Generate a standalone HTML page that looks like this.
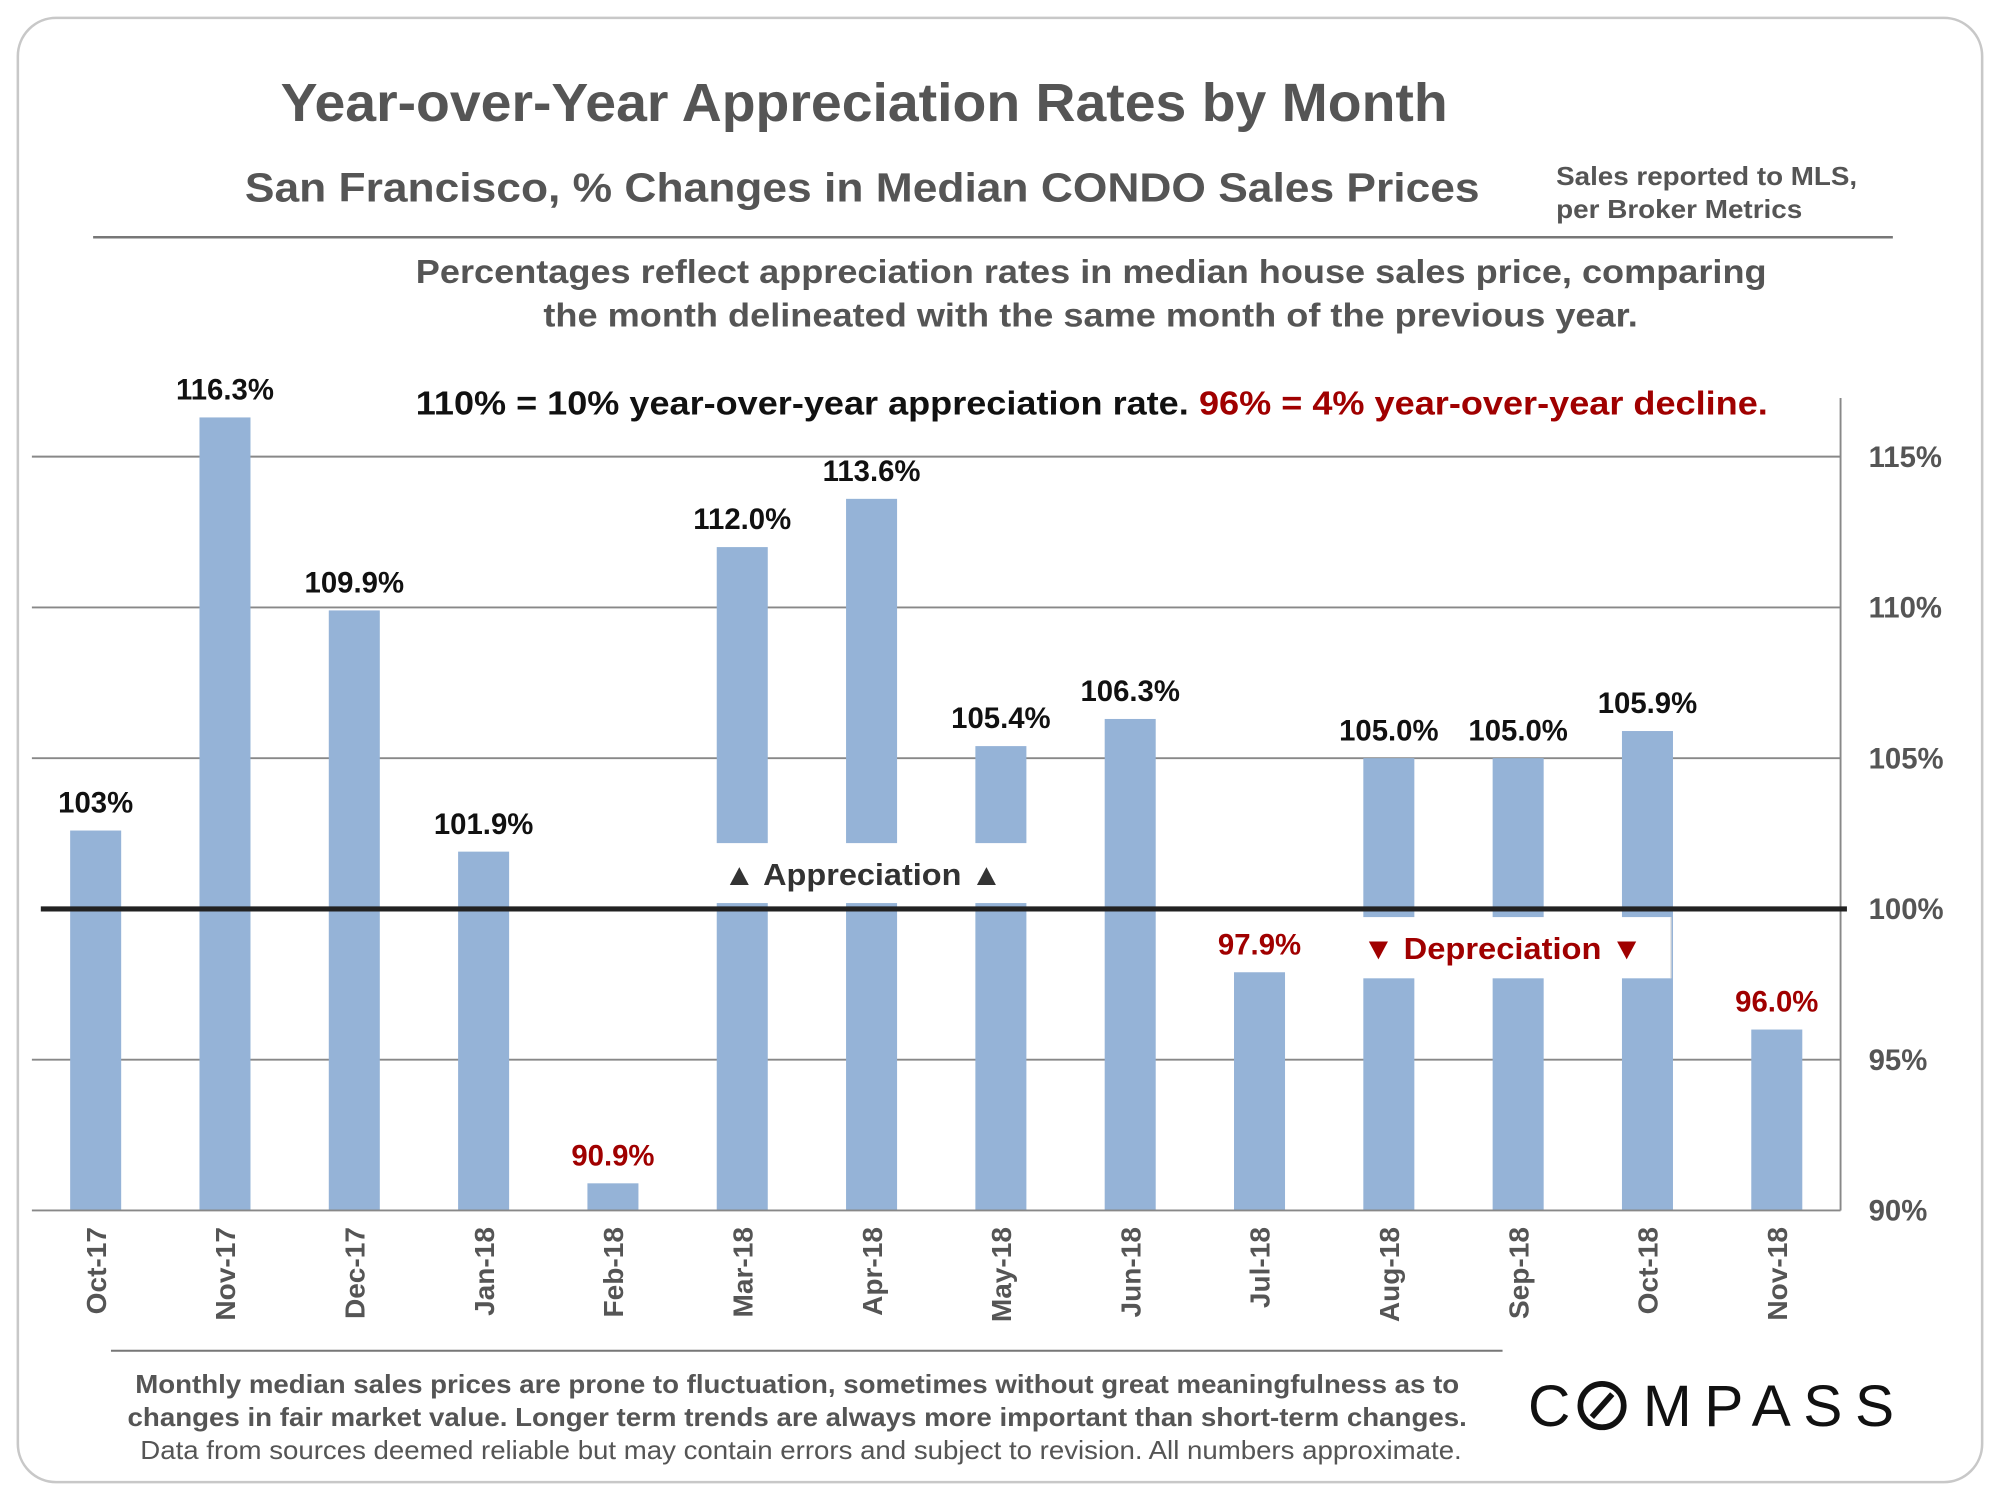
<!DOCTYPE html>
<html><head><meta charset="utf-8"><style>
html,body{margin:0;padding:0;background:#fff}
svg{display:block}
text{font-family:"Liberation Sans",sans-serif}
</style></head><body>
<svg id="chart" width="2000" height="1500" viewBox="0 0 1568 1176" xmlns="http://www.w3.org/2000/svg">
<rect x="14" y="14" width="1540" height="1148" rx="30" fill="#fff" stroke="#c8c8c8" stroke-width="2"/>
<text x="220" y="95" textLength="915" lengthAdjust="spacingAndGlyphs" font-size="42" font-weight="bold" fill="#555">Year-over-Year Appreciation Rates by Month</text>
<text x="192" y="158" textLength="968" lengthAdjust="spacingAndGlyphs" font-size="32" font-weight="bold" fill="#555">San Francisco, % Changes in Median CONDO Sales Prices</text>
<text font-size="20" font-weight="bold" fill="#555"><tspan x="1220" y="145" textLength="236" lengthAdjust="spacingAndGlyphs">Sales reported to MLS,</tspan><tspan x="1220" y="171" textLength="193" lengthAdjust="spacingAndGlyphs">per Broker Metrics</tspan></text>
<line x1="73" y1="186" x2="1484" y2="186" stroke="#777" stroke-width="2"/>
<text font-size="26" font-weight="bold" fill="#555"><tspan x="326" y="222" textLength="1059" lengthAdjust="spacingAndGlyphs">Percentages reflect appreciation rates in median house sales price, comparing</tspan><tspan x="426" y="256" textLength="858" lengthAdjust="spacingAndGlyphs">the month delineated with the same month of the previous year.</tspan></text>
<text font-size="26" font-weight="bold" fill="#111"><tspan x="326" y="325" textLength="606" lengthAdjust="spacingAndGlyphs">110% = 10% year-over-year appreciation rate.</tspan><tspan x="940" y="325" fill="#a00000" textLength="446" lengthAdjust="spacingAndGlyphs">96% = 4% year-over-year decline.</tspan></text>
<g id="grid"></g>
<g id="bars"></g>
<g id="labels"></g>
<line x1="1443" y1="312" x2="1443" y2="949" stroke="#888" stroke-width="1.5"/>
<line x1="25" y1="949" x2="1443" y2="949" stroke="#888" stroke-width="1.5"/>
<rect x="555" y="661" width="250" height="47" fill="#fff"/>
<text x="567" y="694" textLength="219" lengthAdjust="spacingAndGlyphs" font-size="24" font-weight="bold" fill="#333">▲ Appreciation ▲</text>
<line id="baseline" x1="32" x2="1448" stroke="#222" stroke-width="4"/>
<rect x="1060" y="719" width="250" height="48" fill="#fff"/>
<line x1="1310" y1="719" x2="1310" y2="767" stroke="#ddd" stroke-width="1"/>
<text x="1068" y="752" textLength="220" lengthAdjust="spacingAndGlyphs" font-size="24" font-weight="bold" fill="#a00000">▼ Depreciation ▼</text>
<line x1="87" y1="1059" x2="1178" y2="1059" stroke="#777" stroke-width="1.5"/>
<text font-size="20" fill="#555"><tspan x="106" y="1092" font-weight="bold" textLength="1038" lengthAdjust="spacingAndGlyphs">Monthly median sales prices are prone to fluctuation, sometimes without great meaningfulness as to</tspan><tspan x="100" y="1118" font-weight="bold" textLength="1050" lengthAdjust="spacingAndGlyphs">changes in fair market value. Longer term trends are always more important than short-term changes.</tspan><tspan x="110" y="1144" textLength="1036" lengthAdjust="spacingAndGlyphs">Data from sources deemed reliable but may contain errors and subject to revision. All numbers approximate.</tspan></text>
<g>
<text x="1198" y="1118" font-size="46" fill="#111">C</text>
<circle cx="1256" cy="1102" r="17" fill="none" stroke="#111" stroke-width="4.5"/>
<line x1="1248" y1="1111" x2="1264" y2="1093" stroke="#111" stroke-width="4.5"/>
<text x="1288" y="1118" font-size="46" fill="#111" textLength="197" lengthAdjust="spacing">MPASS</text>
</g>
</svg>
<script>
const categories=["Oct-17","Nov-17","Dec-17","Jan-18","Feb-18","Mar-18","Apr-18","May-18","Jun-18","Jul-18","Aug-18","Sep-18","Oct-18","Nov-18"];
const values=[102.6,116.3,109.9,101.9,90.9,112.0,113.6,105.4,106.3,97.9,105.0,105.0,105.9,96.0];
const valueLabels=["103%","116.3%","109.9%","101.9%","90.9%","112.0%","113.6%","105.4%","106.3%","97.9%","105.0%","105.0%","105.9%","96.0%"];
const yTicks=[90,95,100,105,110,115];
const yTickLabels=["90%","95%","100%","105%","110%","115%"];
const NS="http://www.w3.org/2000/svg";
const y=v=>949-(v-90)*(949-358)/25;
const x=i=>75+i*(1393-75)/(categories.length-1);
function mk(t,a,p){const e=document.createElementNS(NS,t);for(const k in a)e.setAttribute(k,a[k]);p.appendChild(e);return e;}
const grid=document.getElementById('grid'),bars=document.getElementById('bars'),labels=document.getElementById('labels');
yTicks.forEach((t,i)=>{
 if(t!==90&&t!==100){const l=mk('line',{x1:25,x2:1443,y1:y(t),y2:y(t),stroke:'#888','stroke-width':1.5},grid);
 
 }
 const tx=mk('text',{x:1465,y:y(t)+8,'font-size':23,'font-weight':'bold',fill:'#555'},grid);
 tx.textContent=yTickLabels[i];
 
 
});
document.getElementById('baseline').setAttribute('y1',y(100));
document.getElementById('baseline').setAttribute('y2',y(100));
values.forEach((v,i)=>{
 const cx=x(i),top=y(v);
 const r=mk('rect',{x:cx-20,y:top,width:40,height:949-top,fill:'#95b3d7'},bars);
 
 
 const t=mk('text',{x:cx,y:top-14,'text-anchor':'middle','font-size':23,'font-weight':'bold',fill:v<100?'#a00000':'#111'},labels);
 t.textContent=valueLabels[i];
 
 
 const c=mk('text',{x:0,y:0,'text-anchor':'end','font-size':22,'font-weight':'bold',fill:'#555',transform:`translate(${cx+8},962) rotate(-90)`},labels);
 c.textContent=categories[i];
 
 
});
</script>
</body></html>
